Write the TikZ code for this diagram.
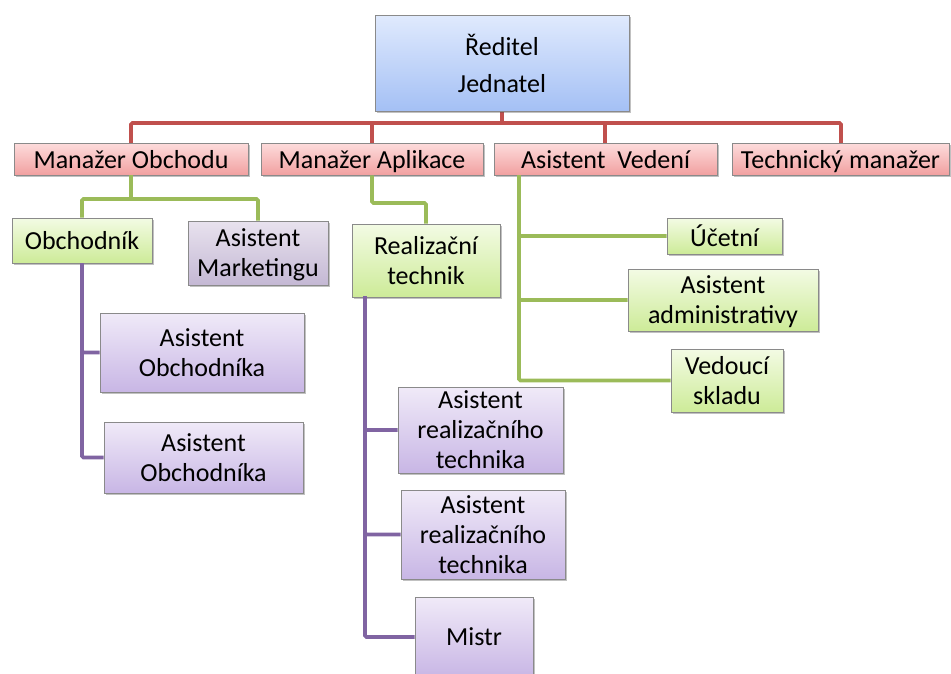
\documentclass[tikz,border=0pt]{standalone}
\usepackage{fontspec}
\setmainfont{Carlito}
\usetikzlibrary{shadows}

\definecolor{boxgray}{HTML}{8A8A8A}
\definecolor{redline}{HTML}{C0504D}
\definecolor{greenline}{HTML}{9BBB59}
\definecolor{purpleline}{HTML}{8064A2}

\tikzset{
  box/.style={draw=boxgray, line width=0.8pt, inner sep=0pt, align=center,
    font=\fontsize{26}{30}\selectfont, text depth=0pt,
    drop shadow={shadow xshift=1.5pt, shadow yshift=-2pt, opacity=0.35, fill=black!70}},
  bluebox/.style={box, top color={rgb,255:red,224;green,234;blue,253}, bottom color={rgb,255:red,164;green,192;blue,245}},
  redbox/.style={box, top color={rgb,255:red,253;green,220;blue,220}, bottom color={rgb,255:red,241;green,160;blue,160}},
  greenbox/.style={box, top color={rgb,255:red,243;green,251;blue,228}, bottom color={rgb,255:red,205;green,235;blue,152}},
  purplebox/.style={box, top color={rgb,255:red,240;green,234;blue,248}, bottom color={rgb,255:red,200;green,182;blue,229}},
  greybox/.style={box, top color={rgb,255:red,232;green,226;blue,238}, bottom color={rgb,255:red,196;green,184;blue,212}},
  wh/.style n args={2}{minimum width=#1pt, minimum height=#2pt},
  link/.style={line width=3.6pt, rounded corners=1.5pt},
  redl/.style={link, draw=redline},
  greenl/.style={link, draw=greenline},
  purplel/.style={link, draw=purpleline},
}

\begin{document}
\begin{tikzpicture}[x=1pt, y=-1pt]
  \useasboundingbox (0,0) rectangle (951,673);

  % bus levels and branch start points
  \coordinate (rbus) at (0,123);
  \coordinate (gbusA) at (0,199);
  \coordinate (gbusB) at (0,203);
  \coordinate (rtl) at (365,296);
  \coordinate (avl) at (519,175);

  % top-level connectors (drawn first, boxes cover their ends)
  \coordinate (dirs) at (502,111);
  \coordinate (mon) at (131,143);
  \coordinate (man) at (372,143);
  \coordinate (avn) at (605,143);
  \coordinate (tmn) at (841,143);
  \draw[redl] (mon) -- (mon |- rbus) -- (tmn |- rbus) -- (tmn);
  \draw[redl] (man) -- (man |- rbus);
  \draw[redl] (avn) -- (avn |- rbus);
  \draw[redl] (dirs) -- (dirs |- rbus);

  % nodes
  \node[bluebox, wh={254}{96}, text height=58pt] (dir) at (502,63) {Ředitel\\[7pt]Jednatel};

  \node[redbox, wh={234}{32}] (mo) at (131,159) {Manažer Obchodu};
  \node[redbox, wh={222}{32}] (ma) at (372,159) {Manažer Aplikace};
  \node[redbox, wh={223}{32}] (av) at (605.5,159) {Asistent~~Vedení};
  \node[redbox, wh={217}{32}] (tm) at (840.5,159) {Technický manažer};

  \node[greenbox, wh={140}{45}] (ob) at (82,240.5) {Obchodník};
  \node[greybox, wh={140}{64}] (am) at (258,253) {Asistent\\Marketingu};
  \node[greenbox, wh={148}{73}] (rt) at (426,260.5) {Realizační\\technik};

  \node[purplebox, wh={204}{79}] (ao1) at (202,352.5) {Asistent\\Obchodníka};
  \node[purplebox, wh={199}{71}] (ao2) at (203.5,457.5) {Asistent\\Obchodníka};

  \node[purplebox, wh={165}{86}] (ar1) at (480.5,430) {Asistent\\realizačního\\technika};
  \node[purplebox, wh={164}{89}] (ar2) at (483,534.5) {Asistent\\realizačního\\technika};
  \node[purplebox, wh={118}{80}] (mi) at (474,637) {Mistr};

  \node[greenbox, wh={115}{36}] (uc) at (724.5,236) {Účetní};
  \node[greenbox, wh={190}{62}] (aa) at (723,300) {Asistent\\administrativy};
  \node[greenbox, wh={112}{63}] (vs) at (727,380.5) {Vedoucí\\skladu};

  % second-level connectors
  \draw[greenl] (ob.north) -- (ob.north |- gbusA) -- (am.north |- gbusA) -- (am.north);
  \draw[greenl] (mo.south) -- (mo.south |- gbusA);
  \draw[greenl] (ma.south) -- (ma.south |- gbusB) -- (rt.north |- gbusB) -- (rt.north);

  \draw[purplel] (ob.south) |- (ao1.west);
  \draw[purplel] (ob.south) |- (ao2.west);

  \draw[purplel] (rtl) |- (ar1.west);
  \draw[purplel] (rtl) |- (ar2.west);
  \draw[purplel] (rtl) |- (mi.west);

  \draw[greenl] (avl) |- (uc.west);
  \draw[greenl] (avl) |- (aa.west);
  \draw[greenl] (avl) |- (vs.west);
\end{tikzpicture}
\end{document}
